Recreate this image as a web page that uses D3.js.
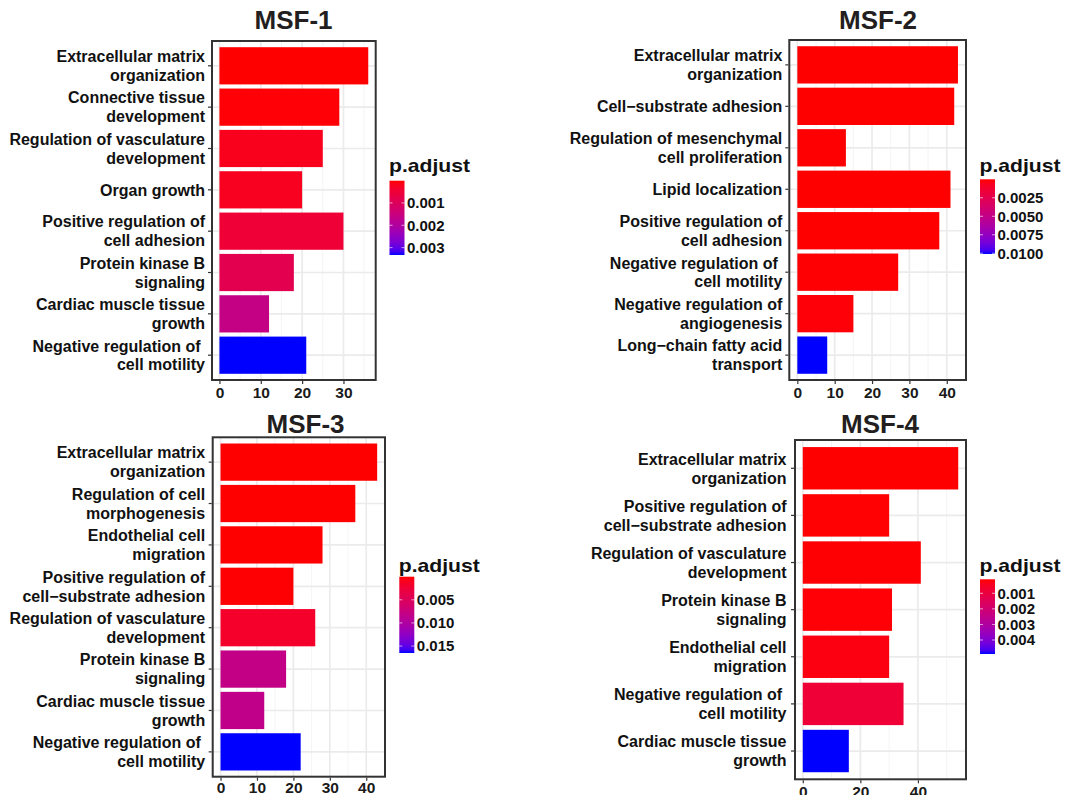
<!DOCTYPE html>
<html>
<head>
<meta charset="utf-8">
<script src="https://cdn.jsdelivr.net/npm/d3@7"></script>
<style>
  html, body { margin: 0; padding: 0; background: #ffffff; }
  svg { display: block; }
  text { font-family: "Liberation Sans", Arial, Helvetica, sans-serif; font-weight: bold; white-space: pre; }
</style>
</head>
<body>
<svg id="chart" width="1067" height="795"></svg>
<script>
// ---------------- DATA ----------------
const msf1Terms = [
  "Extracellular matrix\norganization",
  "Connective tissue\ndevelopment",
  "Regulation of vasculature\ndevelopment",
  "Organ growth",
  "Positive regulation of\ncell adhesion",
  "Protein kinase B\nsignaling",
  "Cardiac muscle tissue\ngrowth",
  "Negative regulation of \ncell motility"
];
const msf1Counts = [36, 29, 25, 20, 30, 18, 12, 21];
const msf1PAdjust = [0.000005, 0.00003, 0.0002, 0.00023, 0.0005, 0.00083, 0.0016, 0.00333];
const msf1XTicks = [0, 10, 20, 30];
const msf1LegendBreaks = [0.001, 0.002, 0.003];
const msf1LegendLabels = ["0.001", "0.002", "0.003"];

const msf2Terms = [
  "Extracellular matrix\norganization",
  "Cell\u2212substrate adhesion",
  "Regulation of mesenchymal\ncell proliferation",
  "Lipid localization",
  "Positive regulation of\ncell adhesion",
  "Negative regulation of \ncell motility",
  "Negative regulation of\nangiogenesis",
  "Long\u2212chain fatty acid\ntransport"
];
const msf2Counts = [43, 42, 13, 41, 38, 27, 15, 8];
const msf2PAdjust = [0.0000008, 0.0000015, 0.00004, 0.000002, 0.00001, 0.00006, 0.00012, 0.0101];
const msf2XTicks = [0, 10, 20, 30, 40];
const msf2LegendBreaks = [0.0025, 0.005, 0.0075, 0.01];
const msf2LegendLabels = ["0.0025", "0.0050", "0.0075", "0.0100"];

const msf3Terms = [
  "Extracellular matrix\norganization",
  "Regulation of cell\nmorphogenesis",
  "Endothelial cell\nmigration",
  "Positive regulation of\ncell\u2212substrate adhesion",
  "Regulation of vasculature\ndevelopment",
  "Protein kinase B\nsignaling",
  "Cardiac muscle tissue\ngrowth",
  "Negative regulation of \ncell motility"
];
const msf3Counts = [43, 37, 28, 20, 26, 18, 12, 22];
const msf3PAdjust = [0.00001, 0.00003, 0.00005, 0.0001, 0.0017, 0.008, 0.0083, 0.0165];
const msf3XTicks = [0, 10, 20, 30, 40];
const msf3LegendBreaks = [0.005, 0.01, 0.015];
const msf3LegendLabels = ["0.005", "0.010", "0.015"];

const msf4Terms = [
  "Extracellular matrix\norganization",
  "Positive regulation of\ncell\u2212substrate adhesion",
  "Regulation of vasculature\ndevelopment",
  "Protein kinase B\nsignaling",
  "Endothelial cell\nmigration",
  "Negative regulation of \ncell motility",
  "Cardiac muscle tissue\ngrowth"
];
const msf4Counts = [54, 30, 41, 31, 30, 35, 16];
const msf4PAdjust = [0.0001, 0.00012, 0.00013, 0.00015, 0.00025, 0.0008, 0.0049];
const msf4XTicks = [0, 20, 40];
const msf4LegendBreaks = [0.001, 0.002, 0.003, 0.004];
const msf4LegendLabels = ["0.001", "0.002", "0.003", "0.004"];

const panelTitles = ["MSF-1", "MSF-2", "MSF-3", "MSF-4"];

// ---------------- LAYOUT ----------------
const svg = d3.select("#chart");
svg.append("rect").attr("width", 1067).attr("height", 795).attr("fill", "#ffffff");
const defs = svg.append("defs");

const panels = [
  { title: panelTitles[0], terms: msf1Terms, counts: msf1Counts, p: msf1PAdjust, ticks: msf1XTicks,
    breaks: msf1LegendBreaks, blabels: msf1LegendLabels,
    box: { L: 212, T: 41, R: 375.7, B: 380 }, titlePos: [293.5, 29], labelGap: 7, xPad: 2.5,
    leg: { x: 389.5, titleY: 172, y: 180.7, h: 74.3 } },
  { title: panelTitles[1], terms: msf2Terms, counts: msf2Counts, p: msf2PAdjust, ticks: msf2XTicks,
    breaks: msf2LegendBreaks, blabels: msf2LegendLabels,
    box: { L: 789.3, T: 40, R: 966, B: 380 }, titlePos: [878, 28.5], labelGap: 7, xPad: 2.5,
    leg: { x: 980, titleY: 172, y: 179.3, h: 74.7 } },
  { title: panelTitles[2], terms: msf3Terms, counts: msf3Counts, p: msf3PAdjust, ticks: msf3XTicks,
    breaks: msf3LegendBreaks, blabels: msf3LegendLabels,
    box: { L: 212.7, T: 437.3, R: 385, B: 776.7 }, titlePos: [305.5, 433.3], labelGap: 7.5, xPad: 1,
    leg: { x: 399.3, titleY: 571.5, y: 576.7, h: 76.3 } },
  { title: panelTitles[3], terms: msf4Terms, counts: msf4Counts, p: msf4PAdjust, ticks: msf4XTicks,
    breaks: msf4LegendBreaks, blabels: msf4LegendLabels,
    box: { L: 795, T: 440, R: 966, B: 779.3 }, titlePos: [880, 433], labelGap: 8.5, xPad: 2.5,
    leg: { x: 980, titleY: 572, y: 579.3, h: 74.7 } }
];

panels.forEach((cfg, pi) => {
  const { L, T, R, B } = cfg.box;
  const maxV = d3.max(cfg.counts);
  const x = d3.scaleLinear().domain([-0.05 * maxV, 1.05 * maxV]).range([L, R]);
  const y = d3.scaleBand().domain(cfg.terms).range([T, B]).paddingInner(0.1).paddingOuter(0.15);
  const pMin = d3.min(cfg.p), pMax = d3.max(cfg.p);
  const color = d3.scaleLinear().domain([pMin, pMax]).range(["#ff0000", "#0000ff"]).interpolate(d3.interpolateLab);

  const g = svg.append("g");

  // panel background + grid
  g.append("rect").attr("x", L).attr("y", T).attr("width", R - L).attr("height", B - T).attr("fill", "#ffffff");
  const step = cfg.ticks[1] - cfg.ticks[0];
  const minor = [];
  for (let v = step / 2; v < x.domain()[1]; v += step) minor.push(v);
  g.selectAll(".minor").data(minor).enter().append("line")
    .attr("x1", d => x(d)).attr("x2", d => x(d)).attr("y1", T).attr("y2", B)
    .attr("stroke", "#f3f3f3").attr("stroke-width", 0.9);
  g.selectAll(".major").data(cfg.ticks).enter().append("line")
    .attr("x1", d => x(d)).attr("x2", d => x(d)).attr("y1", T).attr("y2", B)
    .attr("stroke", "#ebebeb").attr("stroke-width", 1.7);
  g.selectAll(".hgrid").data(cfg.terms).enter().append("line")
    .attr("x1", L).attr("x2", R)
    .attr("y1", d => y(d) + y.bandwidth() / 2).attr("y2", d => y(d) + y.bandwidth() / 2)
    .attr("stroke", "#ebebeb").attr("stroke-width", 1.7);

  // bars
  g.selectAll(".bar").data(cfg.terms).enter().append("rect")
    .attr("x", x(0))
    .attr("y", d => y(d))
    .attr("width", (d, i) => x(cfg.counts[i]) - x(0))
    .attr("height", y.bandwidth())
    .attr("fill", (d, i) => color(cfg.p[i]));

  // frame
  g.append("rect").attr("x", L).attr("y", T).attr("width", R - L).attr("height", B - T)
    .attr("fill", "none").attr("stroke", "#333333").attr("stroke-width", 2);

  // x axis
  const xa = g.append("g").attr("transform", `translate(0,${B + 1})`)
    .call(d3.axisBottom(x).tickValues(cfg.ticks).tickSize(3).tickPadding(cfg.xPad));
  xa.select(".domain").remove();
  xa.selectAll(".tick line").attr("stroke", "#333333").attr("stroke-width", 1.2);
  xa.selectAll(".tick text").attr("font-size", 15.5).attr("fill", "#1a1a1a")
    .style("font-family", "'Liberation Sans', Arial, sans-serif").style("font-weight", "bold");

  // y axis
  const ya = g.append("g").attr("transform", `translate(${L - 1},0)`)
    .call(d3.axisLeft(y).tickSize(3).tickPadding(cfg.labelGap - 4).tickFormat(""));
  ya.select(".domain").remove();
  ya.selectAll(".tick line").attr("stroke", "#333333").attr("stroke-width", 1.2);
  ya.selectAll(".tick text").each(function (d) {
    const t = d3.select(this);
    const lines = d.split("\n");
    t.attr("font-size", 16).attr("fill", "#111111").attr("dy", null).attr("text-anchor", "end")
      .style("font-family", "'Liberation Sans', Arial, sans-serif").style("font-weight", "bold");
    const lh = 19;
    const first = -(lines.length - 1) * lh / 2 + 5.8;
    lines.forEach((ln, k) => {
      t.append("tspan").attr("x", -(cfg.labelGap - 1)).attr("y", first + k * lh).text(ln);
    });
  });

  // title
  g.append("text").attr("x", cfg.titlePos[0]).attr("y", cfg.titlePos[1])
    .attr("text-anchor", "middle").attr("font-size", 26).attr("fill", "#231f20").text(cfg.title);

  // legend
  const lg = cfg.leg;
  const bw = 15;
  g.append("text").attr("x", lg.x - 0.5).attr("y", lg.titleY).attr("font-size", 18.5)
    .attr("textLength", 81).attr("lengthAdjust", "spacingAndGlyphs")
    .attr("fill", "#111111").text("p.adjust");
  const gid = "grad" + pi;
  const grad = defs.append("linearGradient").attr("id", gid)
    .attr("x1", 0).attr("y1", 0).attr("x2", 0).attr("y2", 1);
  d3.range(0, 1.0001, 0.05).forEach(tt => {
    grad.append("stop").attr("offset", tt).attr("stop-color", color(pMin + tt * (pMax - pMin)));
  });
  g.append("rect").attr("x", lg.x).attr("y", lg.y).attr("width", bw).attr("height", lg.h)
    .attr("fill", `url(#${gid})`);
  const ly = d3.scaleLinear().domain([pMin, pMax]).range([lg.y, lg.y + lg.h]);
  cfg.breaks.forEach((b, k) => {
    const yy = ly(b);
    g.append("line").attr("x1", lg.x).attr("x2", lg.x + 3).attr("y1", yy).attr("y2", yy)
      .attr("stroke", "#ffffff").attr("stroke-width", 0.8).attr("opacity", 0.8);
    g.append("line").attr("x1", lg.x + bw - 3).attr("x2", lg.x + bw).attr("y1", yy).attr("y2", yy)
      .attr("stroke", "#ffffff").attr("stroke-width", 0.8).attr("opacity", 0.8);
    g.append("text").attr("x", lg.x + bw + 2.5).attr("y", yy).attr("dy", "0.36em")
      .attr("font-size", 15).attr("fill", "#111111").text(cfg.blabels[k]);
  });
});
</script>
</body>
</html>
